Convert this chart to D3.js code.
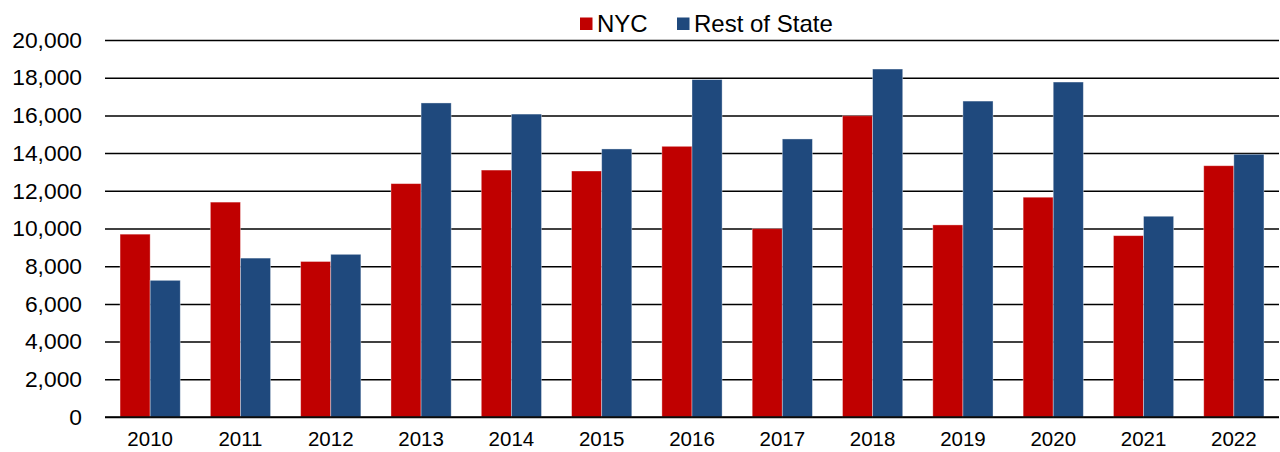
<!DOCTYPE html>
<html>
<head>
<meta charset="utf-8">
<script src="https://cdn.jsdelivr.net/npm/d3@7/dist/d3.min.js"></script>
<style>
  html, body { margin: 0; padding: 0; background: #fff; }
  svg { display: block; font-family: "Liberation Sans", Arial, sans-serif; }
</style>
</head>
<body>
<svg id="chart" width="1280" height="452"></svg>
<script>
const years = ["2010","2011","2012","2013","2014","2015","2016","2017","2018","2019","2020","2021","2022"];
const nyc  = [9700, 11400, 8250, 12380, 13100, 13050, 14360, 9990, 15980, 10190, 11660, 9620, 13330];
const rest = [7250, 8430, 8630, 16660, 16070, 14220, 17900, 14750, 18460, 16760, 17770, 10650, 13940];
const seriesNames = ["NYC", "Rest of State"];
const seriesColors = ["#C00000", "#1F497D"];
const yTicks = [0, 2000, 4000, 6000, 8000, 10000, 12000, 14000, 16000, 18000, 20000];

(function () {
const svg = d3.select("#chart");
const mLeft = 105, mRight = 1279, mTop = 40, mBottom = 417;

const x0 = d3.scaleBand().domain(years).range([mLeft, mRight]).padding(0);
const x1 = d3.scaleBand().domain(seriesNames).range([0, x0.bandwidth()]).paddingInner(0).paddingOuter(0.5);
const y = d3.scaleLinear().domain([0, 20000]).range([mBottom, mTop]);

// gridlines
const yAxis = d3.axisLeft(y).tickValues(yTicks).tickSize(-(mRight - mLeft)).tickFormat(d3.format(",")).tickPadding(23);
const gy = svg.append("g").attr("transform", `translate(${mLeft},0)`).call(yAxis);
gy.select(".domain").remove();
gy.selectAll(".tick line").attr("stroke", "#000").attr("stroke-width", 1.5);
gy.selectAll(".tick text").attr("font-size", 22.8).attr("fill", "#000")
  .attr("font-family", "Liberation Sans, Arial, sans-serif");

// bars
const data = years.map((yr, i) => ({ year: yr, values: [nyc[i], rest[i]] }));
const groups = svg.append("g").selectAll("g").data(data).join("g")
  .attr("transform", d => `translate(${x0(d.year)},0)`);
groups.selectAll("rect").data(d => d.values.map((v, j) => ({ name: seriesNames[j], v, j })))
  .join("rect")
  .attr("x", d => x1(d.name))
  .attr("width", x1.bandwidth())
  .attr("y", d => y(d.v))
  .attr("height", d => y(0) - y(d.v))
  .attr("fill", d => seriesColors[d.j])
  .attr("stroke", "#ffffff")
  .attr("stroke-opacity", 0.45)
  .attr("stroke-width", 0.8);

// baseline
svg.append("line").attr("x1", mLeft).attr("x2", mRight).attr("y1", y(0)).attr("y2", y(0))
  .attr("stroke", "#000").attr("stroke-width", 1.5);

// x axis labels
const xAxis = d3.axisBottom(x0).tickSize(0).tickPadding(14);
const gx = svg.append("g").attr("transform", `translate(0,${mBottom})`).call(xAxis);
gx.select(".domain").remove();
gx.selectAll(".tick text").attr("font-size", 20.5).attr("fill", "#000")
  .attr("font-family", "Liberation Sans, Arial, sans-serif");

// legend
const legendItems = [
  { name: seriesNames[0], color: seriesColors[0], sx: 580, tx: 597 },
  { name: seriesNames[1], color: seriesColors[1], sx: 677, tx: 694 }
];
const lg = svg.append("g");
legendItems.forEach(it => {
  lg.append("rect").attr("x", it.sx).attr("y", 17.5).attr("width", 12.5).attr("height", 12.5).attr("fill", it.color);
  lg.append("text").attr("x", it.tx).attr("y", 31.5).attr("font-size", 24).attr("fill", "#000").text(it.name);
});
})();
</script>
</body>
</html>
